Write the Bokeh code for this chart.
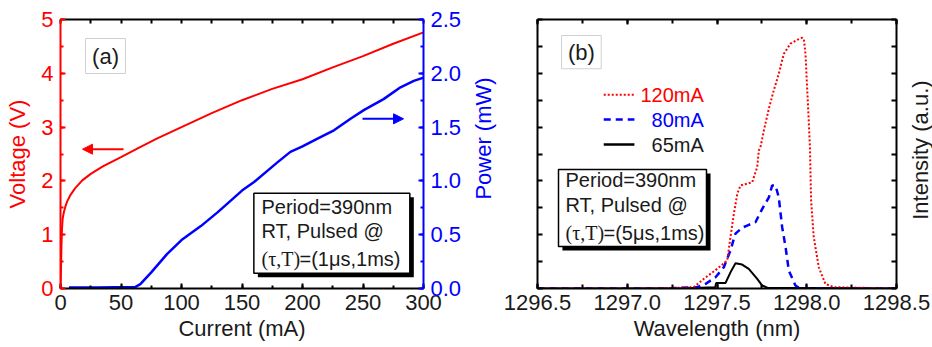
import math
from bokeh.plotting import figure
from bokeh.layouts import row
from bokeh.models import (Range1d, LinearAxis, SingleIntervalTicker, Arrow, NormalHead,
                          NumeralTickFormatter, CustomJSTickFormatter)
from bokeh.embed import file_html
from bokeh.resources import INLINE
from bokeh.core.properties import value

# ---------------- data: panel (a) ----------------
current_v = [0, 0.4, 0.8, 1.2, 1.8, 2.8, 4, 5.5, 8, 12, 18, 25, 35, 50, 65, 80, 100,
             125, 150, 175, 200, 225, 250, 275, 300]
voltage = [0, 0.35, 0.8, 1.1, 1.3, 1.42, 1.52, 1.62, 1.73, 1.86, 2.01, 2.13, 2.27, 2.44,
           2.62, 2.79, 3.0, 3.26, 3.5, 3.71, 3.89, 4.11, 4.32, 4.55, 4.76]
current_p = [7, 30, 62, 66, 75, 88, 100, 116, 130, 150, 160, 179, 190, 200, 212, 226,
             240, 251, 267, 281, 292, 300]
power = [0.01, 0.01, 0.015, 0.04, 0.15, 0.32, 0.45, 0.58, 0.71, 0.91, 0.99, 1.17,
         1.27, 1.32, 1.39, 1.47, 1.58, 1.66, 1.76, 1.87, 1.93, 1.96]

# ---------------- data: panel (b) ----------------
wl_120 = [1296.5, 1297.0, 1297.25, 1297.371, 1297.427, 1297.501, 1297.557, 1297.575,
          1297.594, 1297.613, 1297.631, 1297.696, 1297.724, 1297.733, 1297.742, 1297.761,
          1297.789, 1297.816, 1297.844, 1297.872, 1297.909, 1297.947, 1297.975, 1297.984,
          1297.993, 1298.002, 1298.011, 1298.018, 1298.024, 1298.039, 1298.067, 1298.104,
          1298.149, 1298.5]
int_120 = [0, 0, 0.002, 0.005, 0.036, 0.073, 0.104, 0.191,
           0.278, 0.352, 0.383, 0.395, 0.451, 0.513, 0.525, 0.587,
           0.669, 0.736, 0.798, 0.872, 0.910, 0.924, 0.932, 0.926,
           0.872, 0.748, 0.625, 0.520, 0.330, 0.191, 0.079, 0.017,
           0.005, 0]
wl_80 = [1296.5, 1297.2, 1297.39, 1297.436, 1297.492, 1297.538, 1297.575, 1297.594,
         1297.603, 1297.640, 1297.668, 1297.715, 1297.752, 1297.789, 1297.807, 1297.826,
         1297.844, 1297.863, 1297.882, 1297.900, 1297.937, 1297.965, 1298.5]
int_80 = [0, 0, 0.005, 0.017, 0.042, 0.079, 0.141, 0.185,
          0.204, 0.226, 0.234, 0.247, 0.296, 0.339, 0.383, 0.383,
          0.339, 0.228, 0.154, 0.067, 0.011, 0, 0]
wl_65 = [1296.5, 1297.3, 1297.45, 1297.49, 1297.495, 1297.547, 1297.575, 1297.603,
         1297.640, 1297.677, 1297.724, 1297.752, 1297.780, 1298.5]
int_65 = [0, 0, 0.004, 0.005, 0.020, 0.020, 0.060, 0.094,
          0.089, 0.073, 0.036, 0.011, 0.003, 0]
legend_labels = ["120mA", "80mA", "65mA"]
info_a = ["Period=390nm", "RT, Pulsed @", "(\u03c4,T)", "=(1\u03bcs,1ms)"]
info_b = ["Period=390nm", "RT, Pulsed @", "(\u03c4,T)", "=(5\u03bcs,1ms)"]

SANS = "Liberation Sans"
SERIF = "Liberation Serif"
RED = "#ff0000"
BLUE = "#0000ff"
INK = "#1a1a1a"
FS = "22px"
H = 347
BLANK = CustomJSTickFormatter(code="return ''")


def style_axis(ax, color, text_color, labels=True, tick=5, minor=3):
    ax.axis_line_color = color
    ax.axis_line_width = 2
    ax.major_tick_line_color = color
    ax.minor_tick_line_color = color
    ax.major_tick_line_width = 2
    ax.minor_tick_line_width = 2
    ax.major_tick_in = tick
    ax.major_tick_out = 0
    ax.minor_tick_in = minor
    ax.minor_tick_out = 0
    ax.major_label_text_font = SANS
    ax.major_label_text_font_size = FS if labels else "1px"
    ax.major_label_text_color = text_color
    ax.axis_label_text_font = SANS
    ax.axis_label_text_font_size = FS
    ax.axis_label_text_font_style = "normal"
    ax.axis_label_text_color = text_color
    if not labels:
        ax.formatter = BLANK
        ax.major_label_standoff = 0


def title_strip(width, cx, cy, text, color, margin=None):
    """A narrow, axis-less, transparent strip carrying one vertical axis title."""
    s = figure(width=width, height=H, x_range=Range1d(0, width), y_range=Range1d(0, H),
               output_backend="svg", toolbar_location=None,
               x_axis_location=None, y_axis_location=None, min_border=0)
    s.grid.visible = False
    s.outline_line_color = None
    s.background_fill_color = None
    s.border_fill_color = None
    if margin is not None:
        s.margin = margin
    s.text(x=[cx], y=[H - cy], text=[text], angle=math.pi / 2, text_align="center",
           text_baseline="middle", text_font=value(SANS), text_font_size=FS,
           text_color=color)
    return s


# ================= panel (a) =================
p1 = figure(width=470, height=H, x_range=Range1d(0, 300), y_range=Range1d(0, 5),
            output_backend="svg", toolbar_location=None,
            min_border_left=60, min_border_right=47, min_border_top=19, min_border_bottom=59)
p1.extra_y_ranges = {"power": Range1d(0, 2.5)}
p1.grid.visible = False
p1.outline_line_color = None

p1.xaxis.ticker = SingleIntervalTicker(interval=50, num_minor_ticks=2)
p1.xaxis.axis_label = "Current (mA)"
style_axis(p1.xaxis[0], "black", INK)
p1.xaxis.major_label_standoff = 6
p1.xaxis.axis_label_standoff = 3

p1.yaxis.ticker = SingleIntervalTicker(interval=1, num_minor_ticks=2)
p1.yaxis.axis_label = "Voltage (V)"
style_axis(p1.yaxis[0], RED, RED)
p1.yaxis.major_label_standoff = 7
p1.yaxis.axis_label_standoff = 8

ax_top = LinearAxis(ticker=SingleIntervalTicker(interval=25, num_minor_ticks=0))
style_axis(ax_top, "black", INK, labels=False, tick=4)
p1.add_layout(ax_top, "above")

ax_pow = LinearAxis(y_range_name="power",
                    ticker=SingleIntervalTicker(interval=0.5, num_minor_ticks=2),
                    formatter=NumeralTickFormatter(format="0.0"))
style_axis(ax_pow, BLUE, BLUE)
ax_pow.major_label_standoff = 7
p1.add_layout(ax_pow, "right")

p1.line(current_v, voltage, line_color=RED, line_width=2)
p1.line(current_p, power, y_range_name="power", line_color=BLUE, line_width=2.5)

p1.add_layout(Arrow(end=NormalHead(size=10, fill_color=RED, line_color=RED, line_width=1),
                    x_start=52.1, y_start=2.59, x_end=18.2, y_end=2.59,
                    line_color=RED, line_width=2))
p1.add_layout(Arrow(end=NormalHead(size=10, fill_color=BLUE, line_color=BLUE, line_width=1),
                    x_start=249.6, y_start=1.577, x_end=283.5, y_end=1.577,
                    y_range_name="power", line_color=BLUE, line_width=2))

# (a) label box
p1.quad(left=[20.7], right=[53.7], bottom=[3.996], top=[4.647],
        fill_color="white", line_color="#d0d0d0", line_width=1)
p1.text(x=[37.2], y=[4.31], text=["(a)"], text_font=value(SANS), text_font_size=FS,
        text_align="center", text_baseline="middle", text_color=INK)

# info box (a)
p1.quad(left=[163.1], right=[292.0], bottom=[0.210], top=[1.697],
        fill_color="black", line_color=None)
p1.quad(left=[159.8], right=[288.7], bottom=[0.284], top=[1.771],
        fill_color="white", line_color="black", line_width=1.5)
p1.text(x=[166.1, 166.1], y=[1.524, 1.078], text=info_a[:2], text_font=value(SANS),
        text_font_size="20px", text_baseline="middle", text_color=INK)
p1.text(x=[166.1], y=[0.55], text=[info_a[2]], text_font=value(SERIF),
        text_font_size="20px", text_baseline="middle", text_color=INK)
p1.text(x=[166.1], y=[0.55], text=[info_a[3]], text_font=value(SANS), x_offset=38,
        text_font_size="20px", text_baseline="middle", text_color=INK)

strip_pow = title_strip(30, 13, 153.5, "Power (mW)", BLUE)

# ================= panel (b) =================
p2 = figure(width=432, height=H, x_range=Range1d(1296.5, 1298.5), y_range=Range1d(0, 1),
            output_backend="svg", toolbar_location=None, y_axis_location="right",
            min_border_left=37, min_border_right=36, min_border_top=19, min_border_bottom=59)
p2.grid.visible = False
p2.outline_line_color = None

p2.xaxis.ticker = SingleIntervalTicker(interval=0.5, num_minor_ticks=2)
p2.xaxis.formatter = NumeralTickFormatter(format="0.0")
p2.xaxis.axis_label = "Wavelength (nm)"
style_axis(p2.xaxis[0], "black", INK, tick=5, minor=4)
p2.xaxis.major_label_standoff = 6
p2.xaxis.axis_label_standoff = 3

p2.yaxis.ticker = SingleIntervalTicker(interval=0.1, num_minor_ticks=0)
style_axis(p2.yaxis[0], "black", INK, labels=False)

ax_top2 = LinearAxis(ticker=SingleIntervalTicker(interval=0.5, num_minor_ticks=2))
style_axis(ax_top2, "black", INK, labels=False, tick=5, minor=4)
p2.add_layout(ax_top2, "above")
ax_left2 = LinearAxis(ticker=SingleIntervalTicker(interval=0.1, num_minor_ticks=0))
style_axis(ax_left2, "black", INK, labels=False)
p2.add_layout(ax_left2, "left")

p2.line(wl_65, int_65, line_color="black", line_width=2)
p2.line(wl_80, int_80, line_color=BLUE, line_width=2.5, line_dash="7 5")
p2.line(wl_120, int_120, line_color=RED, line_width=2, line_dash="2 2")

# legend (manual, text right aligned)
leg_y = [0.720, 0.628, 0.535]
leg_col = [RED, BLUE, INK]
leg_dash = ["2 2", "7 5", "solid"]
for yy, c, d in zip(leg_y, [RED, BLUE, "black"], leg_dash):
    p2.line([1296.869, 1297.040], [yy, yy], line_color=c, line_width=2.5 if d != "2 2" else 2,
            line_dash=d)
p2.text(x=[1297.4265] * 3, y=leg_y, text=legend_labels, text_color=leg_col,
        text_font=value(SANS), text_font_size="20px", text_align="right",
        text_baseline="middle")

# (b) label box
p2.quad(left=[1296.634], right=[1296.855], bottom=[0.8168], top=[0.9405],
        fill_color="white", line_color="#d0d0d0", line_width=1)
p2.text(x=[1296.745], y=[0.877], text=["(b)"], text_font=value(SANS), text_font_size=FS,
        text_align="center", text_baseline="middle", text_color=INK)

# info box (b)
p2.quad(left=[1296.639], right=[1297.464], bottom=[0.1413], top=[0.4275],
        fill_color="black", line_color=None)
p2.quad(left=[1296.617], right=[1297.4415], bottom=[0.1561], top=[0.4424],
        fill_color="white", line_color="black", line_width=1.5)
p2.text(x=[1296.656, 1296.656], y=[0.4015, 0.3086], text=info_b[:2], text_font=value(SANS),
        text_font_size="20px", text_baseline="middle", text_color=INK)
p2.text(x=[1296.656], y=[0.207], text=[info_b[2]], text_font=value(SERIF),
        text_font_size="20px", text_baseline="middle", text_color=INK)
p2.text(x=[1296.656], y=[0.207], text=[info_b[3]], text_font=value(SANS), x_offset=38,
        text_font_size="20px", text_baseline="middle", text_color=INK)

# transparent strip laid over p2's right border (negative left margin)
strip_int = title_strip(36, 23.7, 168.5, "Intensity (a.u.)", INK, margin=(0, 0, 0, -36))

layout = row(p1, strip_pow, p2, strip_int)
open("out.html", "w").write(file_html(layout, INLINE, title="chart"))
